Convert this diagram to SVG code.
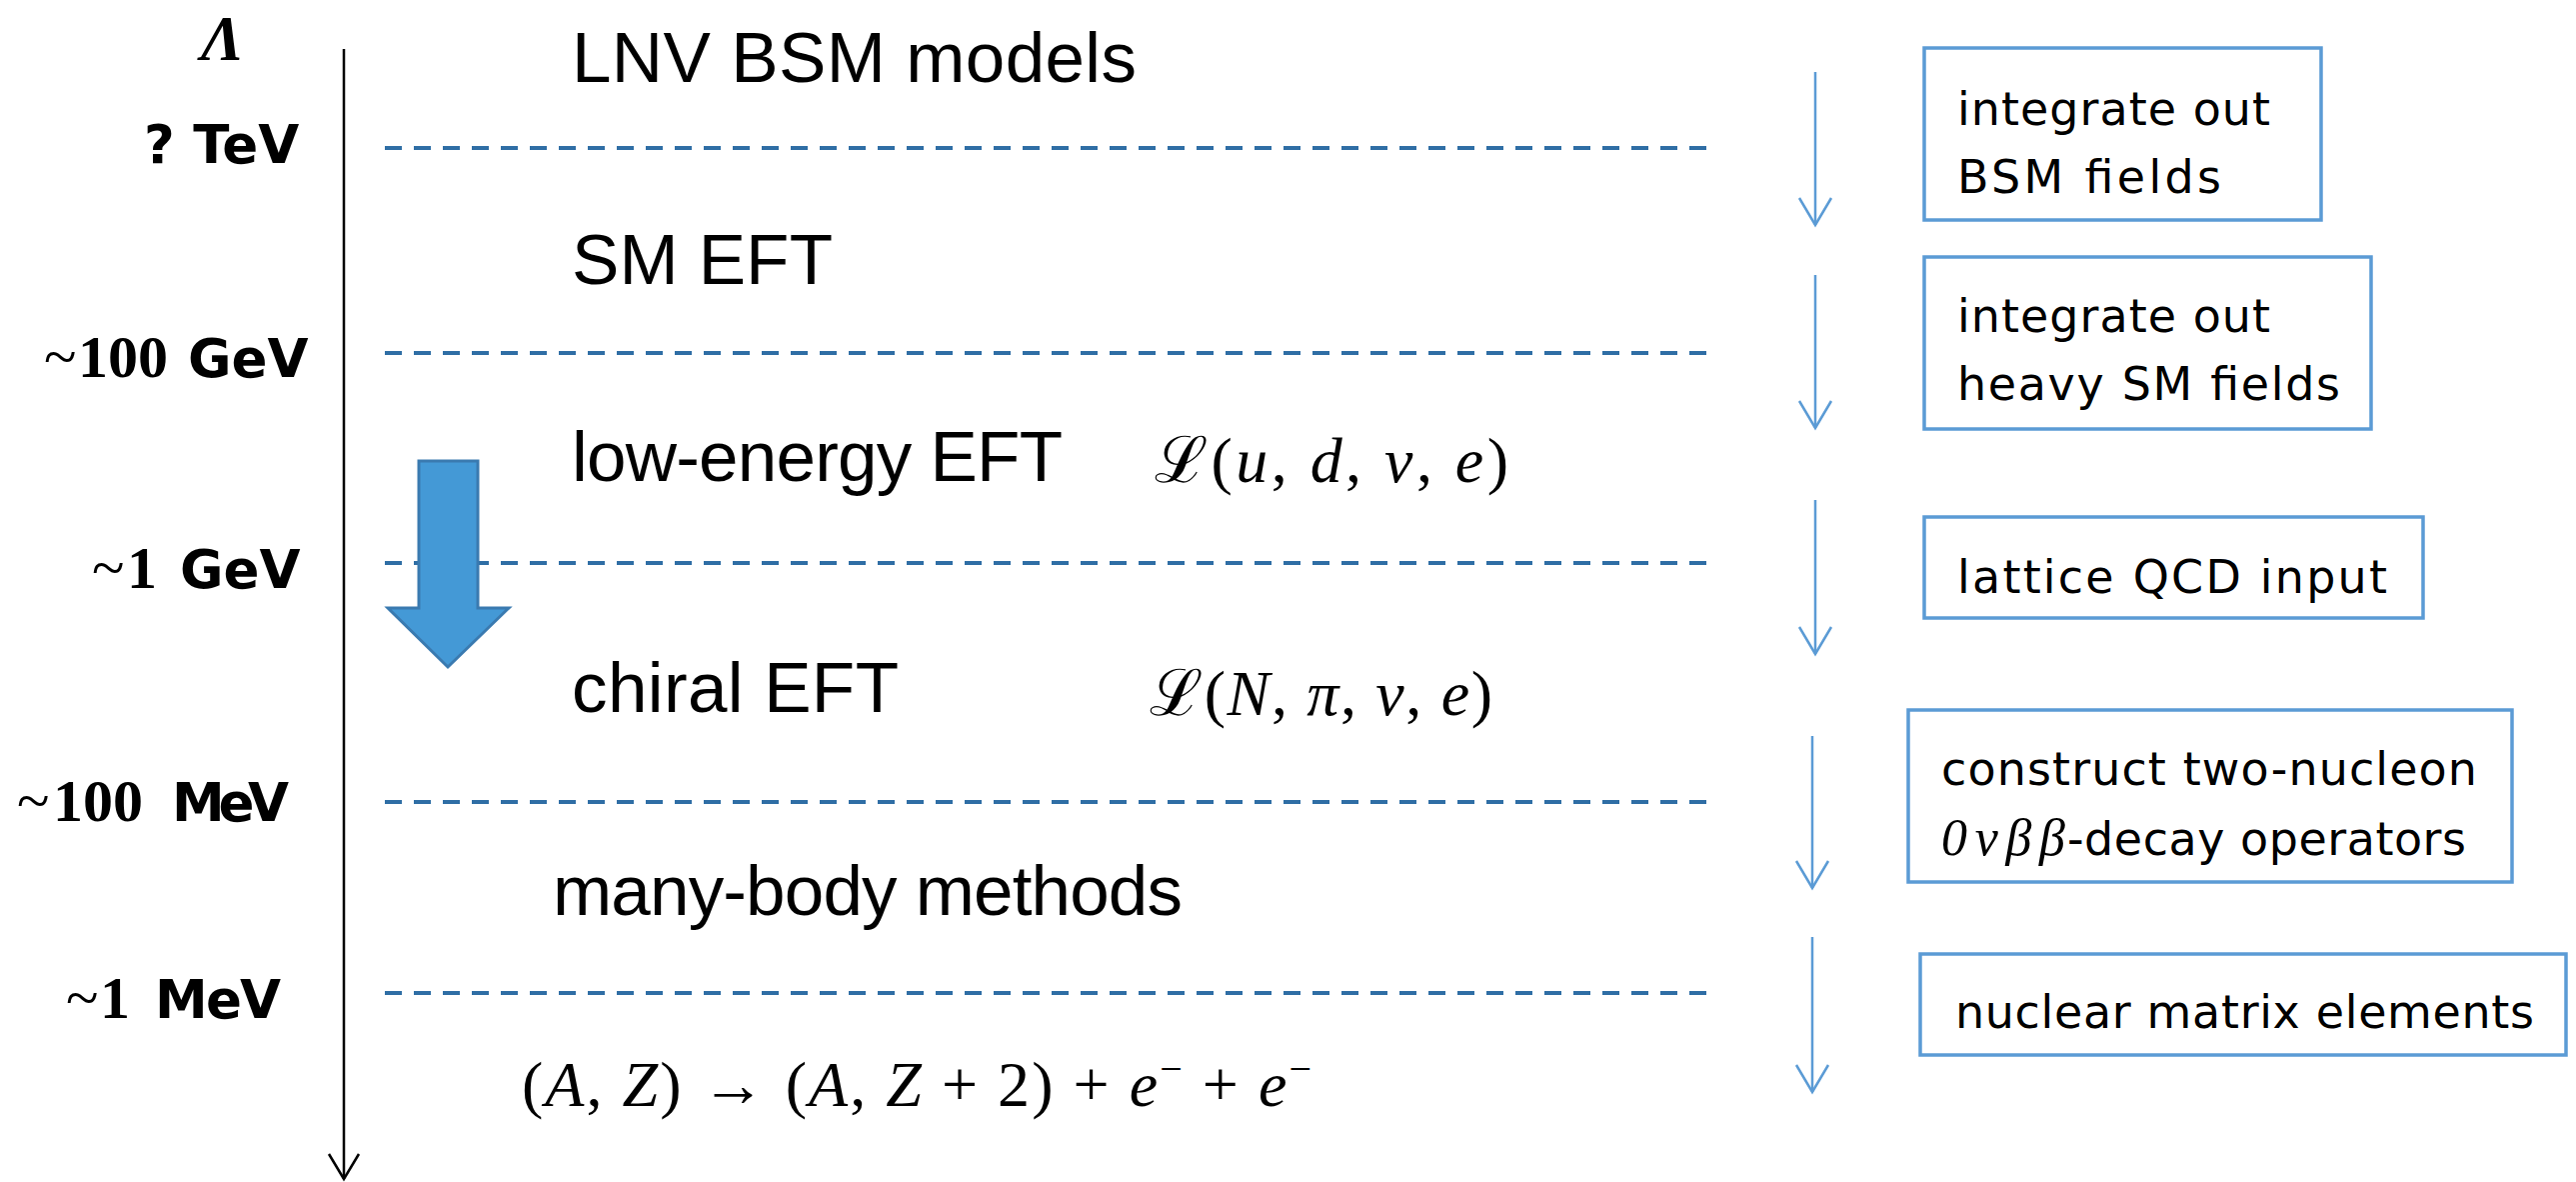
<svg xmlns="http://www.w3.org/2000/svg" width="2577" height="1182" viewBox="0 0 2577 1182">
<style>
.lbl{font-family:"DejaVu Sans",sans-serif;font-weight:bold;font-size:53px;fill:#000}
.num{font-family:"Liberation Serif",serif;font-weight:bold;font-size:60px}
.tl{font-family:"Liberation Serif",serif;font-weight:normal;font-size:60px}
.head{font-family:"Liberation Sans",Arial,sans-serif;font-size:71px;fill:#000}
.bt{font-family:"DejaVu Sans",sans-serif;font-size:46px;fill:#000}
.math{font-family:"Liberation Serif","DejaVu Serif",serif;font-size:64px;fill:#000}
.it{font-style:italic}
.box{fill:none;stroke:#5b9bd5;stroke-width:3.5}
.dash{stroke:#2f6ea5;stroke-width:4;stroke-dasharray:17 12;fill:none}
.step{stroke:#5b9bd5;stroke-width:2.5;fill:none}
.axis{stroke:#000;stroke-width:2.5;fill:none}
</style>
<defs>
<marker id="vblue" markerUnits="userSpaceOnUse" viewBox="-30 -20 32 40" refX="0" refY="0" markerWidth="32" markerHeight="40" orient="auto" overflow="visible">
<path d="M-27,-16 L0,0 L-27,16" fill="none" stroke="#5b9bd5" stroke-width="2.5"/>
</marker>
<marker id="vblack" markerUnits="userSpaceOnUse" viewBox="-30 -20 32 40" refX="0" refY="0" markerWidth="32" markerHeight="40" orient="auto" overflow="visible">
<path d="M-25,-15 L0,0 L-25,15" fill="none" stroke="#000" stroke-width="2.5"/>
</marker>
</defs>
<rect width="2577" height="1182" fill="#fff"/>

<g id="axis">
<line class="axis" x1="344" y1="49" x2="344" y2="1179" marker-end="url(#vblack)"/>
<text x="201" y="60" font-family="Liberation Serif,serif" font-style="italic" font-weight="bold" font-size="64">Λ</text>
</g>

<g id="scale-labels">
<text class="lbl" x="144" y="163">? TeV</text>
<text class="lbl" y="377"><tspan class="tl" x="44">~</tspan><tspan class="num" x="78">100</tspan><tspan x="188">GeV</tspan></text>
<text class="lbl" y="588"><tspan class="tl" x="92">~</tspan><tspan class="num" x="127">1</tspan><tspan x="180">GeV</tspan></text>
<text class="lbl" y="821"><tspan class="tl" x="17">~</tspan><tspan class="num" x="53">100</tspan><tspan x="172" textLength="117">MeV</tspan></text>
<text class="lbl" y="1018"><tspan class="tl" x="66">~</tspan><tspan class="num" x="100">1</tspan><tspan x="155" textLength="126">MeV</tspan></text>
</g>

<g id="scale-lines">
<line class="dash" x1="385" y1="148" x2="1709" y2="148"/>
<line class="dash" x1="385" y1="353" x2="1709" y2="353"/>
<line class="dash" x1="385" y1="563" x2="1709" y2="563"/>
<line class="dash" x1="385" y1="802" x2="1709" y2="802"/>
<line class="dash" x1="385" y1="993" x2="1709" y2="993"/>
</g>

<g id="big-arrow">
<polygon points="419,461 478,461 478,608 509,608 448,667 388,608 419,608" fill="#4499d6" stroke="#3a7ab0" stroke-width="3" stroke-linejoin="miter"/>
</g>

<g id="level-lnv"><text class="head" x="572" y="82" textLength="565">LNV BSM models</text></g>
<g id="level-smeft"><text class="head" x="572" y="284" textLength="261">SM EFT</text></g>
<g id="level-lowenergy">
<text class="head" x="572" y="481" textLength="491">low-energy EFT</text>
<text class="math" x="1155" y="482" textLength="354">ℒ(<tspan class="it">u</tspan>, <tspan class="it">d</tspan>, <tspan class="it">ν</tspan>, <tspan class="it">e</tspan>)</text>
</g>
<g id="level-chiral">
<text class="head" x="572" y="712" textLength="327">chiral EFT</text>
<text class="math" x="1150" y="715" textLength="343">ℒ(<tspan class="it">N</tspan>, <tspan class="it">π</tspan>, <tspan class="it">ν</tspan>, <tspan class="it">e</tspan>)</text>
</g>
<g id="level-manybody"><text class="head" x="553" y="915" textLength="630">many-body methods</text></g>
<g id="decay">
<text class="math" x="522" y="1106" font-size="62" textLength="790">(<tspan class="it">A</tspan>, <tspan class="it">Z</tspan>) → (<tspan class="it">A</tspan>, <tspan class="it">Z</tspan> + 2) + <tspan class="it">e</tspan><tspan font-size="40" dy="-24">−</tspan><tspan dy="24"> + </tspan><tspan class="it">e</tspan><tspan font-size="40" dy="-24">−</tspan></text>
</g>

<g id="connectors">
<line class="step" x1="1816" y1="72" x2="1816" y2="225" marker-end="url(#vblue)"/>
<line class="step" x1="1816" y1="275" x2="1816" y2="428" marker-end="url(#vblue)"/>
<line class="step" x1="1816" y1="500" x2="1816" y2="654" marker-end="url(#vblue)"/>
<line class="step" x1="1813" y1="736" x2="1813" y2="888" marker-end="url(#vblue)"/>
<line class="step" x1="1813" y1="937" x2="1813" y2="1092" marker-end="url(#vblue)"/>
</g>

<g id="box-bsm">
<rect class="box" x="1925" y="48" width="397" height="172"/>
<text class="bt" x="1958" y="125" textLength="313">integrate out</text>
<text class="bt" x="1958" y="193" textLength="264">BSM fields</text>
</g>
<g id="box-heavy">
<rect class="box" x="1925" y="257" width="447" height="172"/>
<text class="bt" x="1958" y="332" textLength="313">integrate out</text>
<text class="bt" x="1958" y="400" textLength="383">heavy SM fields</text>
</g>
<g id="box-lattice">
<rect class="box" x="1925" y="517" width="499" height="101"/>
<text class="bt" x="1958" y="593" textLength="430">lattice QCD input</text>
</g>
<g id="box-construct">
<rect class="box" x="1909" y="710" width="604" height="172"/>
<text class="bt" x="1942" y="785" textLength="536">construct two-nucleon</text>
<text class="bt" y="855"><tspan x="1942" font-family="Liberation Serif,serif" font-style="italic" font-size="52" textLength="124">0νββ</tspan><tspan x="2068" textLength="399">-decay operators</tspan></text>
</g>
<g id="box-nme">
<rect class="box" x="1921" y="954" width="646" height="101"/>
<text class="bt" x="1956" y="1028" textLength="579">nuclear matrix elements</text>
</g>
</svg>
